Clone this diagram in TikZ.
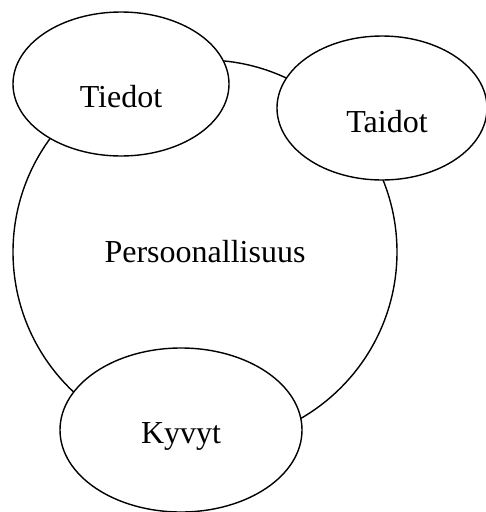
\documentclass[tikz,border=0pt]{standalone}
\usepackage{fontspec}
\setmainfont{Liberation Serif}
\usetikzlibrary{shapes.geometric}
\begin{document}
\begin{tikzpicture}[x=1pt,y=-1pt,line width=1.4pt,font=\fontsize{32}{38}\selectfont,
    oval/.style={ellipse,draw,fill=white,inner sep=0pt}]
        \useasboundingbox(0,0)rectangle(486,512);
        \node[circle,draw,minimum size=384pt,inner sep=0pt](pers)at(205,252){};
        \node(perstext)at(205,252){Persoonallisuus};
        \node[oval,minimum width=216pt,minimum height=144pt,label={[yshift=-13pt]center:Tiedot}](tiedot)at(121,84){};
        \node[oval,minimum width=210pt,minimum height=144pt,label={[xshift=5pt,yshift=-14pt]center:Taidot}](taidot)at(382,108){};
        \node[oval,minimum width=242pt,minimum height=164pt,label={[yshift=-6pt]center:Kyvyt}](kyvyt)at(181,430){};
    \end{tikzpicture}
\end{document}
